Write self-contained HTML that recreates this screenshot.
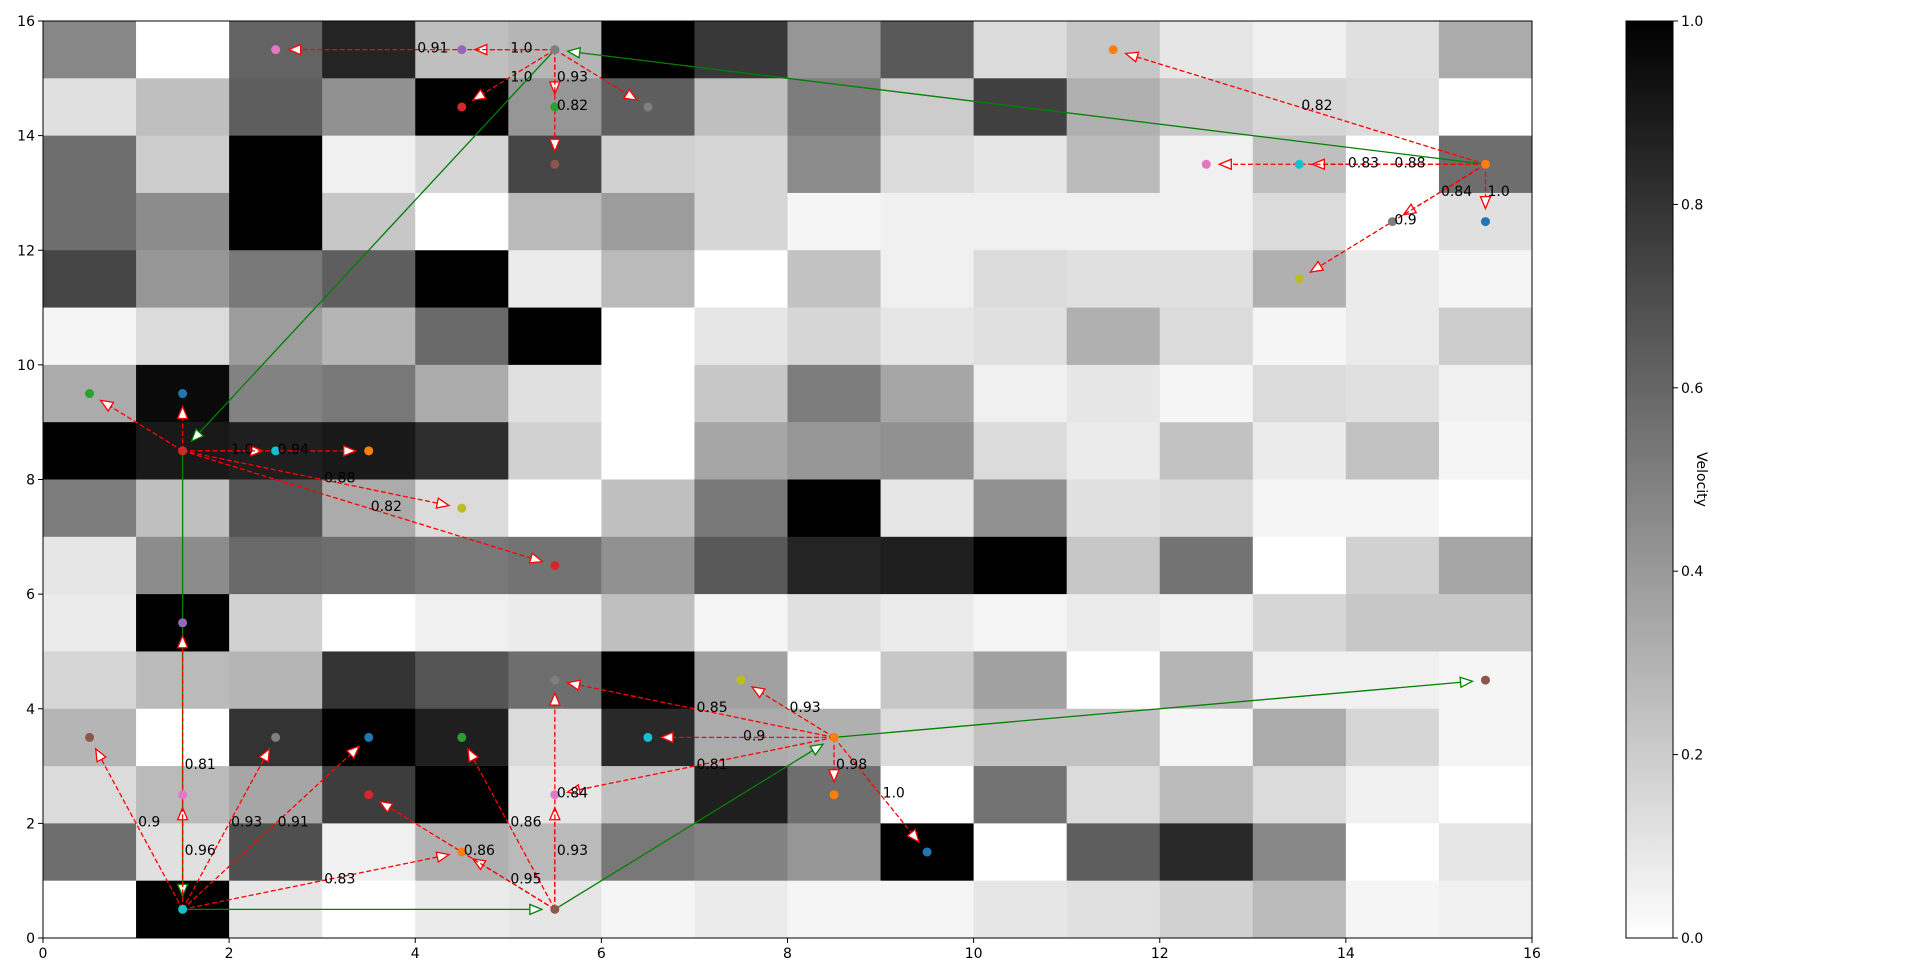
<!DOCTYPE html>
<html><head><meta charset="utf-8"><style>
html,body{margin:0;padding:0;background:#fff;}
svg{display:block;font-family:"DejaVu Sans","Liberation Sans",sans-serif;}
</style></head><body>
<svg id="chart" width="1920" height="977" viewBox="0 0 1920 977" xmlns="http://www.w3.org/2000/svg">
<defs>
<linearGradient id="cbgrad" x1="0" y1="1" x2="0" y2="0">
<stop offset="0" stop-color="#ffffff"/><stop offset="1" stop-color="#000000"/>
</linearGradient>
</defs>
<g id="heat"></g>
<g id="edges"></g>
<g id="nodes"></g>
<g id="labels"></g>
<g id="axes"></g>
<g id="cbar"></g>
</svg>
<script>
// heatmap rows listed top (y=15) to bottom (y=0)
const gridRows = [
[.47,0,.61,.86,.25,.29,1,.78,.41,.65,.14,.22,.1,.06,.12,.33],
[.12,.25,.63,.43,1,.41,.63,.25,.51,.2,.75,.31,.22,.16,.14,0],
[.57,.2,1,.06,.16,.73,.18,.16,.45,.14,.1,.27,.06,.25,0,.57],
[.57,.45,1,.22,0,.27,.39,.16,.04,.06,.06,.06,.06,.14,0,.12],
[.73,.41,.53,.63,1,.08,.27,0,.24,.06,.14,.12,.12,.31,.08,.04],
[.04,.14,.39,.29,.59,1,0,.1,.16,.1,.12,.31,.14,.04,.08,.2],
[.33,.96,.49,.53,.33,.12,0,.22,.51,.35,.06,.1,.04,.14,.12,.06],
[1,.9,.88,.9,.82,.18,0,.35,.41,.43,.14,.08,.24,.08,.24,.04],
[.51,.25,.67,.33,.14,0,.25,.53,1,.1,.43,.12,.14,.04,.04,0],
[.1,.45,.59,.57,.53,.55,.43,.65,.86,.88,1,.22,.55,0,.18,.35],
[.08,1,.18,0,.06,.08,.25,.04,.12,.08,.04,.08,.06,.16,.22,.22],
[.16,.27,.29,.8,.67,.57,1,.37,0,.22,.37,0,.29,.06,.06,.04],
[.29,0,.8,1,.88,.14,.84,.33,.31,.14,.24,.24,.04,.33,.16,.04],
[.14,.27,.35,.76,1,.1,.25,.88,.57,0,.55,.14,.27,.14,.06,0],
[.57,.12,.69,.06,.31,.27,.53,.49,.41,1,0,.63,.84,.47,0,.1],
[0,1,.1,0,.08,.1,.04,.08,.04,.04,.1,.12,.18,.27,.04,.06]
];
const nodeX = [5.5,4.5,2.5,4.5,5.5,6.5,5.5,11.5,15.5,13.5,12.5,15.5,14.5,13.5,0.5,1.5,1.5,2.5,3.5,4.5,5.5,1.5,5.5,7.5,15.5,8.5,6.5,0.5,2.5,3.5,4.5,1.5,3.5,5.5,8.5,9.5,4.5,1.5,5.5];
const nodeY = [15.5,15.5,15.5,14.5,14.5,14.5,13.5,15.5,13.5,13.5,13.5,12.5,12.5,11.5,9.5,9.5,8.5,8.5,8.5,7.5,6.5,5.5,4.5,4.5,4.5,3.5,3.5,3.5,3.5,3.5,3.5,2.5,2.5,2.5,2.5,1.5,1.5,0.5,0.5];
const nodeColor = ["#7f7f7f","#9467bd","#e377c2","#d62728","#2ca02c","#7f7f7f","#8c564b","#ff7f0e","#ff7f0e","#17becf","#e377c2","#1f77b4","#7f7f7f","#bcbd22","#2ca02c","#1f77b4","#d62728","#17becf","#ff7f0e","#bcbd22","#d62728","#9467bd","#7f7f7f","#bcbd22","#8c564b","#ff7f0e","#17becf","#8c564b","#7f7f7f","#1f77b4","#2ca02c","#e377c2","#d62728","#e377c2","#ff7f0e","#1f77b4","#ff7f0e","#17becf","#8c564b"];
// red (dashed) edges
const redFrom = [0,0,0,0,0,0, 8,8,8,8,8,8, 16,16,16,16,16,16, 37,37,37,37,37,37, 38,38,38,38,38, 25,25,25,25,25,25];
const redTo   = [1,2,3,4,6,5, 7,9,10,11,12,13, 14,15,17,18,19,20, 27,31,21,28,29,36, 36,32,30,33,22, 22,23,26,33,34,35];
const redLabel = ["1.0","0.91","1.0","0.93","0.82","", "0.82","0.88","0.83","1.0","0.84","0.9", "","","1.0","0.94","0.88","0.82", "0.9","0.96","0.81","0.93","0.91","0.83", "0.95","0.86","0.86","0.93","0.84", "0.85","0.93","0.9","0.81","0.98","1.0"];
// green (solid) edges
const greenFrom = [8,0,16,37,38,25];
const greenTo   = [0,16,37,38,25,24];
const tickVals = [0,2,4,6,8,10,12,14,16];
const cbTicks = [0,0.2,0.4,0.6,0.8,1.0];

const L=43,R=1532,T=21,B=938;
const X=v=>L+v*(R-L)/16, Y=v=>B-v*(B-T)/16;
const NS="http://www.w3.org/2000/svg";
function mk(tag,attrs,parent){const e=document.createElementNS(NS,tag);for(const k in attrs)e.setAttribute(k,attrs[k]);parent.appendChild(e);return e;}
function gray(v){const g=Math.round(255*(1-Math.max(0,Math.min(1,v))));return `rgb(${g},${g},${g})`;}

const heat=document.getElementById('heat');
gridRows.forEach((row,ri)=>{const yv=15-ri;row.forEach((v,ci)=>{
 const r=mk('rect',{x:X(ci),y:Y(yv+1),width:X(ci+1)-X(ci)+0.5,height:Y(yv)-Y(yv+1)+0.5,fill:gray(v)},heat);
 
 
});});

const edges=document.getElementById('edges');
function arrow(i,j,color,dashed,name){
 const x1=X(nodeX[i]),y1=Y(nodeY[i]),x2=X(nodeX[j]),y2=Y(nodeY[j]);
 const dx=x2-x1,dy=y2-y1,len=Math.hypot(dx,dy),ux=dx/len,uy=dy/len;
 const tipX=x2-ux*13,tipY=y2-uy*13;
 const g=mk('g',{},edges);
 
 
 const ln=mk('line',{x1:x1,y1:y1,x2:tipX-ux*10,y2:tipY-uy*10,stroke:color,'stroke-width':1.3},g);
 if(dashed)ln.setAttribute('stroke-dasharray','5,2.5');
 const bx=tipX-ux*12,by=tipY-uy*12,px=-uy*5,py=ux*5;
 mk('polygon',{points:`${tipX},${tipY} ${bx+px},${by+py} ${bx-px},${by-py}`,fill:'#fff',stroke:color,'stroke-width':1.3},g);
}
greenFrom.forEach((f,k)=>arrow(f,greenTo[k],'#008000',false,'green-edge'));
redFrom.forEach((f,k)=>arrow(f,redTo[k],'#ff0000',true,'red-edge'));

const nodes=document.getElementById('nodes');
nodeX.forEach((x,k)=>{const c=mk('circle',{cx:X(x),cy:Y(nodeY[k]),r:4.5,fill:nodeColor[k]},nodes);
 
 });

const labels=document.getElementById('labels');
redFrom.forEach((f,k)=>{if(!redLabel[k])return;const t=redTo[k];
 const mx=(nodeX[f]+nodeX[t])/2,my=(nodeY[f]+nodeY[t])/2;
 const tx=mk('text',{x:X(mx)+2,y:Y(my)+3,'font-size':14,fill:'#000'},labels);
 tx.textContent=redLabel[k];
 
 });

const axes=document.getElementById('axes');
mk('rect',{x:L,y:T,width:R-L,height:B-T,fill:'none',stroke:'#000','stroke-width':1},axes);
tickVals.forEach(v=>{
 mk('line',{x1:X(v),y1:B,x2:X(v),y2:B+5,stroke:'#000'},axes);
 const tx=mk('text',{x:X(v),y:B+20,'font-size':14,'text-anchor':'middle'},axes);tx.textContent=v;
 
 
 mk('line',{x1:L-5,y1:Y(v),x2:L,y2:Y(v),stroke:'#000'},axes);
 const ty=mk('text',{x:L-8,y:Y(v)+5,'font-size':14,'text-anchor':'end'},axes);ty.textContent=v;
 
 
});

const cb=document.getElementById('cbar');
const CL=1626,CR=1673;
mk('rect',{x:CL,y:T,width:CR-CL,height:B-T,fill:'url(#cbgrad)',stroke:'#000','stroke-width':1},cb);
cbTicks.forEach(v=>{const y=B-v*(B-T);
 mk('line',{x1:CR,y1:y,x2:CR+5,y2:y,stroke:'#000'},cb);
 const t=mk('text',{x:CR+8,y:y+5,'font-size':14},cb);t.textContent=v.toFixed(1);
 
 });
const cl=mk('text',{x:1697,y:(T+B)/2,'font-size':14,'text-anchor':'middle',transform:`rotate(90 1697 ${(T+B)/2})`},cb);
cl.textContent='Velocity';


</script>
</body></html>
